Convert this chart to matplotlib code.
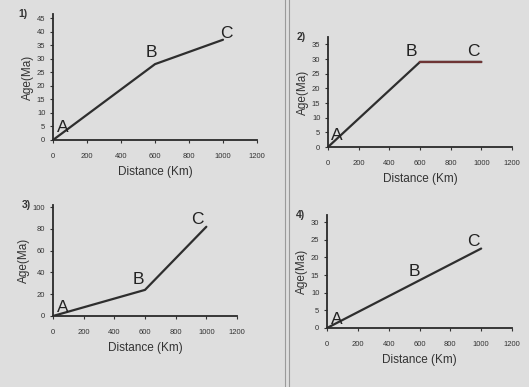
import matplotlib.pyplot as plt
from matplotlib.lines import Line2D

plt.rcParams['font.family'] = ['Liberation Sans', 'DejaVu Sans']

x_ticks = [0, 200, 400, 600, 800, 1000, 1200]
pts = ['A', 'B', 'C']

# plot 1
d1 = [0, 600, 1000]
age1 = [0, 28, 37]
yt1 = [0, 5, 10, 15, 20, 25, 30, 35, 40, 45]
# plot 2
d2 = [0, 600, 1000]
age2 = [0, 29, 29]
yt2 = [0, 5, 10, 15, 20, 25, 30, 35]
# plot 3
d3 = [0, 600, 1000]
age3 = [0, 24, 82]
yt3 = [0, 20, 40, 60, 80, 100]
# plot 4
d4 = [0, 600, 1000]
age4 = [0, 13.5, 22.5]
yt4 = [0, 5, 10, 15, 20, 25, 30]

W, H = 529, 387
fig = plt.figure(figsize=(W/100, H/100), dpi=100)
fig.patch.set_facecolor('#dedede')

def box(x0, x1, y0, ytop):
    return [x0/W, 1 - y0/H, (x1 - x0)/W, (y0 - ytop)/H]

panels = [
    (box(53, 257, 140, 14), d1, age1, yt1, '1)', 46.5),
    (box(328, 512, 147, 37), d2, age2, yt2, '2)', 37.5),
    (box(53, 237, 316, 205), d3, age3, yt3, '3)', 102),
    (box(327, 512, 328, 215), d4, age4, yt4, '4)', 32),
]

# label offsets (points) for A, B, C in each panel
offs = [
    [(3, 6), (-7, 5), (-2, 1)],
    [(2, 5), (-10, 4), (-10, 4)],
    [(3, 3), (-9, 4), (-11, 2)],
    [(3, 3), (-8, 3), (-10, 2)],
]

for i, (pos, d, age, yt, tag, ymax) in enumerate(panels):
    ax = fig.add_axes(pos)
    ax.set_facecolor('none')
    ax.plot(d, age, color='#2e2e2e', lw=1.6, solid_capstyle='round')
    if i == 1:
        ax.plot(d[1:], age[1:], color='#6e3535', lw=1.6)
    for p, x, y, off in zip(pts, d, age, offs[i]):
        ax.annotate(p, (x, y), xytext=off, textcoords='offset points',
                    fontsize=12.5, color='#222222')
    ax.set_xlim(0, 1200)
    ax.set_ylim(0, ymax)
    ax.set_xticks(x_ticks)
    ax.set_yticks(yt)
    ax.tick_params(labelsize=5.5, length=2.5, width=0.8, colors='#333333', pad=3)
    ax.tick_params(axis='x', pad=7)
    for s in ['top', 'right']:
        ax.spines[s].set_visible(False)
    for s in ['left', 'bottom']:
        ax.spines[s].set_linewidth(1.3)
        ax.spines[s].set_color('#2a2a2a')
    ax.set_xlabel('Distance (Km)', fontsize=8.5, color='#333333', labelpad=4)
    ax.set_ylabel('Age(Ma)', fontsize=8.5, color='#333333', labelpad=2)
    ax.text(-0.17, 1.0, tag, transform=ax.transAxes, fontsize=7.5,
            color='#333333', fontweight='bold', va='center')

fig.add_artist(Line2D([285/W, 285/W], [0, 1], color='#9a9a9a', lw=0.8))
fig.add_artist(Line2D([289/W, 289/W], [0, 1], color='#9a9a9a', lw=0.8))

fig.savefig('out.png', dpi=100, facecolor=fig.get_facecolor())
